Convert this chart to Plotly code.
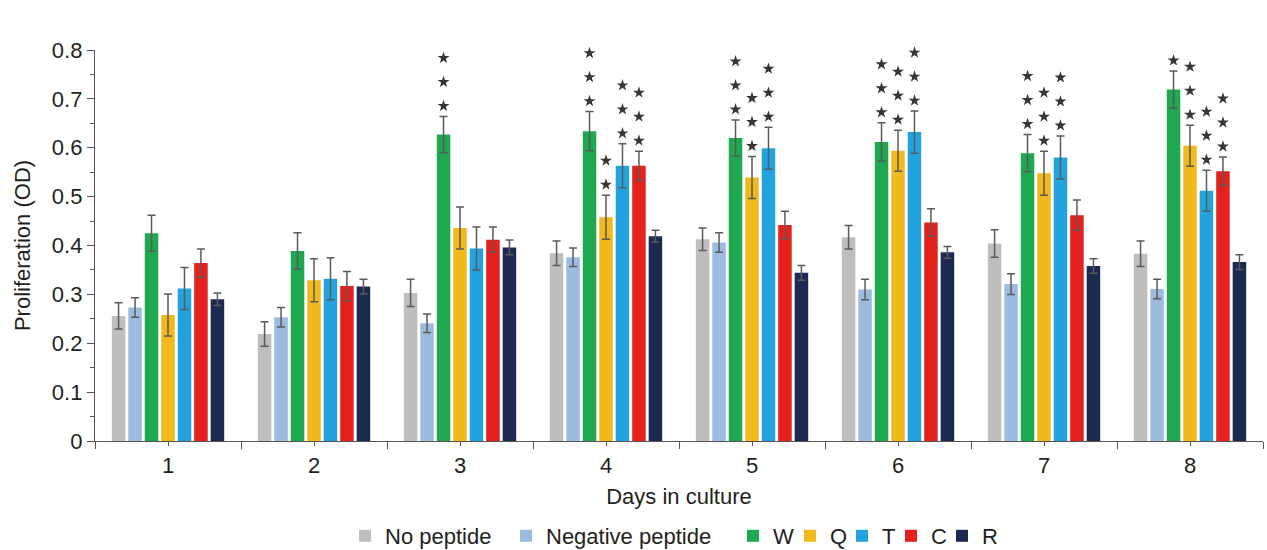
import plotly.graph_objects as go

# ---------------- data ----------------
days = [1, 2, 3, 4, 5, 6, 7, 8]
day_labels = ["1", "2", "3", "4", "5", "6", "7", "8"]

series_names = ["No peptide", "Negative peptide", "W", "Q", "T", "C", "R"]

no_peptide = [0.256, 0.219, 0.303, 0.384, 0.413, 0.417, 0.404, 0.383]
no_peptide_err = [0.027, 0.025, 0.028, 0.025, 0.023, 0.024, 0.028, 0.026]

neg_peptide = [0.273, 0.253, 0.241, 0.376, 0.406, 0.310, 0.321, 0.311]
neg_peptide_err = [0.020, 0.020, 0.019, 0.019, 0.020, 0.021, 0.021, 0.020]

w_vals = [0.425, 0.389, 0.627, 0.634, 0.620, 0.612, 0.589, 0.719]
w_err = [0.037, 0.037, 0.037, 0.040, 0.037, 0.039, 0.038, 0.038]

q_vals = [0.258, 0.329, 0.436, 0.458, 0.539, 0.594, 0.548, 0.604]
q_err = [0.043, 0.044, 0.043, 0.045, 0.043, 0.042, 0.045, 0.042]

t_vals = [0.312, 0.332, 0.394, 0.563, 0.599, 0.632, 0.580, 0.512]
t_err = [0.043, 0.043, 0.044, 0.045, 0.043, 0.043, 0.044, 0.042]

c_vals = [0.364, 0.317, 0.412, 0.563, 0.442, 0.447, 0.462, 0.552]
c_err = [0.029, 0.030, 0.026, 0.030, 0.028, 0.028, 0.031, 0.029]

r_vals = [0.290, 0.316, 0.396, 0.419, 0.344, 0.386, 0.358, 0.366]
r_err = [0.013, 0.015, 0.015, 0.012, 0.015, 0.012, 0.015, 0.015]

# number of significance stars above each bar
no_peptide_stars = [0, 0, 0, 0, 0, 0, 0, 0]
neg_peptide_stars = [0, 0, 0, 0, 0, 0, 0, 0]
w_stars = [0, 0, 3, 3, 3, 3, 3, 3]
q_stars = [0, 0, 0, 2, 3, 3, 3, 3]
t_stars = [0, 0, 0, 3, 3, 3, 3, 3]
c_stars = [0, 0, 0, 3, 0, 0, 0, 3]
r_stars = [0, 0, 0, 0, 0, 0, 0, 0]

colors = ["#BFBEBC", "#9BBCE0", "#1EA84F", "#F2B91C", "#22A3DD", "#E5211D", "#1C2A52"]

values = [no_peptide, neg_peptide, w_vals, q_vals, t_vals, c_vals, r_vals]
errors = [no_peptide_err, neg_peptide_err, w_err, q_err, t_err, c_err, r_err]
stars = [no_peptide_stars, neg_peptide_stars, w_stars, q_stars, t_stars, c_stars, r_stars]

# ---------------- layout constants ----------------
W, H = 1267, 550
M_L, M_R, M_T, M_B = 95, 4, 50, 109
Y_MAX = 0.8
BARGAP = 0.21
BARGROUPGAP = 0.18
FONT = "Arial, 'Liberation Sans', sans-serif"
TXT = "#231F20"
AX = "#5B5353"
FS = 22
# left pixel of each legend entry's text (legend layout)
LEGEND_TEXT_X = [382, 543, 770, 827, 879, 928, 979]
LEGEND_Y_PX = 536

plot_h = H - M_T - M_B
px_per_unit = plot_h / Y_MAX
first_off = 10.5 / px_per_unit
step = 24 / px_per_unit

fig = go.Figure()
n = len(series_names)
legend_ids = ["legend"] + ["legend%d" % (k + 1) for k in range(1, n)]
for j, name in enumerate(series_names):
    fig.add_trace(go.Bar(
        x=days, y=values[j], name=name, legend=legend_ids[j],
        marker=dict(color=colors[j], line=dict(width=0)),
        error_y=dict(type="data", array=errors[j], visible=True,
                     color="#5A5A5A", thickness=1.5, width=4),
    ))

# star markers (positions derived from bar geometry)
sx, sy = [], []
group_w = 1 - BARGAP
for j in range(n):
    for i, d in enumerate(days):
        k = stars[j][i]
        if k:
            xc = d - group_w / 2 + (j + 0.5) * group_w / n
            top = values[j][i] + errors[j][i]
            for s in range(k):
                sx.append(xc)
                sy.append(top + first_off + s * step)
fig.add_trace(go.Scatter(
    x=sx, y=sy, mode="markers", showlegend=False, hoverinfo="skip",
    cliponaxis=False,
    marker=dict(symbol="star", size=9, color="#3A3434", line=dict(width=0)),
))

legend_layouts = {}
for j, lid in enumerate(legend_ids):
    legend_layouts[lid] = dict(
        orientation="h", xref="container", x=(LEGEND_TEXT_X[j] - 37) / W, xanchor="left",
        yref="container", y=1 - LEGEND_Y_PX / H, yanchor="middle",
        font=dict(size=FS, color=TXT), itemwidth=30,
        bgcolor="rgba(0,0,0,0)", borderwidth=0,
    )

fig.update_layout(
    width=W, height=H,
    margin=dict(l=M_L, r=M_R, t=M_T, b=M_B, autoexpand=False),
    paper_bgcolor="white", plot_bgcolor="white",
    barmode="group", bargap=BARGAP, bargroupgap=BARGROUPGAP,
    font=dict(family=FONT, size=FS, color=TXT),
    showlegend=True,
    **legend_layouts,
)
fig.update_xaxes(
    range=[0.5, 8.5], tickmode="array", tickvals=days, ticktext=day_labels,
    ticks="outside", ticklen=4, tickwidth=1.3, tickcolor=AX,
    minor=dict(tickmode="array", tickvals=[d - 0.5 for d in days] + [days[-1] + 0.5],
               ticks="outside", ticklen=7, tickwidth=1.3, tickcolor=AX),
    showline=True, linecolor=AX, linewidth=1.3, showgrid=False, zeroline=False,
    tickfont=dict(size=FS, color=TXT),
    title=dict(text="Days in culture", font=dict(size=FS, color=TXT), standoff=12),
)
fig.update_yaxes(
    range=[0, Y_MAX], dtick=0.1, tick0=0,
    ticks="outside", ticklen=7, tickwidth=1.3, tickcolor=AX,
    minor=dict(dtick=0.05, ticks="outside", ticklen=4, tickwidth=1.3, tickcolor=AX),
    showline=True, linecolor=AX, linewidth=1.3, showgrid=False, zeroline=False,
    tickfont=dict(size=FS, color=TXT),
    title=dict(text="Proliferation (OD)", font=dict(size=FS, color=TXT), standoff=15),
)

fig.write_html("out.html", config={"displayModeBar": False},
               post_script="document.body.style.margin='0';")
